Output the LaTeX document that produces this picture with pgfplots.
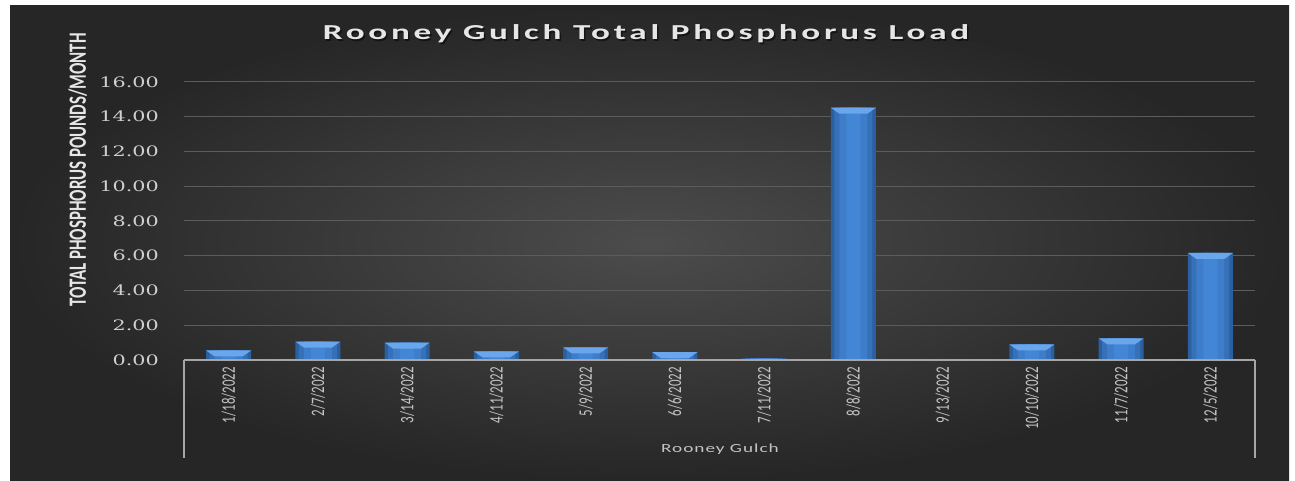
\documentclass[border=0pt]{standalone}
\usepackage{fontspec}
\usepackage{pgfplots}
\pgfplotsset{compat=1.18}
\newfontfamily\titlefont{Carlito}[FakeStretch=1.65,LetterSpace=17.5]
\newfontfamily\ylabfont{Carlito}[FakeStretch=0.68]
\newfontfamily\datefont{Carlito}[FakeStretch=0.68]
\newfontfamily\catfont{Carlito}[FakeStretch=1.55,LetterSpace=8]
\newfontfamily\tickfont{DejaVu Serif}[FakeStretch=1.44]
\definecolor{bgin}{HTML}{4C4C4C}
\definecolor{bgout}{HTML}{262626}
\definecolor{gridc}{HTML}{5C5C5C}
\definecolor{axisc}{HTML}{A6A6A6}
\definecolor{barA}{HTML}{2B5F9F}
\definecolor{barB}{HTML}{3670B8}
\definecolor{barC}{HTML}{3E7DCA}
\definecolor{barD}{HTML}{4486D6}
\definecolor{capc}{HTML}{6AA6EC}
\definecolor{titlec}{HTML}{E6E6E6}
\definecolor{tickc}{HTML}{CFCFCF}
\definecolor{datec}{HTML}{C4C4C4}
\pgfdeclareplotmark{bevel}{%
  \pgfpathmoveto{\pgfqpoint{-22.5pt}{0pt}}%
  \pgfpathlineto{\pgfqpoint{22.5pt}{0pt}}%
  \pgfpathlineto{\pgfqpoint{14pt}{-6pt}}%
  \pgfpathlineto{\pgfqpoint{-14pt}{-6pt}}%
  \pgfpathclose
  \pgfusepathqfill}
\pgfplotstableread{
x y
0 0.55
1 1.06
2 1.00
3 0.50
4 0.73
5 0.45
6 0.10
7 14.52
8 0.03
9 0.90
10 1.25
11 6.16
}\loads
\pgfplotstableread{
x y
0 0.55
1 1.06
2 1.00
3 0.50
4 0.73
5 0.45
7 14.52
9 0.90
10 1.25
11 6.16
}\caps
\begin{document}
\begin{tikzpicture}[x=1pt,y=1pt]
\path[use as bounding box] (0,0) rectangle (1295,481);
\shade[inner color=bgin, outer color=bgout] (10,0) rectangle (1289,475);
\begin{axis}[
  at={(184pt,121pt)}, anchor=south west,
  scale only axis, width=1071pt, height=278pt,
  xmin=-0.5, xmax=11.5, ymin=0, ymax=16,
  ytick={0,2,...,16},
  axis line style={draw=none},
  tick style={draw=none},
  major tick length=0pt,
  ymajorgrids, grid style={color=gridc, line width=1pt},
  xtick={0,...,11},
  xticklabels={1/18/2022,2/7/2022,3/14/2022,4/11/2022,5/9/2022,6/6/2022,7/11/2022,8/8/2022,9/13/2022,10/10/2022,11/7/2022,12/5/2022},
  xticklabel style={rotate=90, anchor=east, inner sep=0pt, text=datec, font=\datefont\fontsize{19}{20}\selectfont},
  xticklabel shift=7pt,
  yticklabel style={anchor=east, inner sep=0pt, text=tickc, font=\tickfont\fontsize{14.4}{16}\selectfont},
  yticklabel shift=25pt,
  /pgf/number format/assume math mode=true,
  /pgf/number format/.cd, fixed, fixed zerofill, precision=2, /pgfplots/.cd,
  clip=false,
]
\addplot[ybar, bar width=45pt, bar shift=0pt, draw=none, fill=barA] table[x=x,y=y] {\loads};
\addplot[ybar, bar width=38pt, bar shift=0pt, draw=none, fill=barB, forget plot] table[x=x,y=y] {\loads};
\addplot[ybar, bar width=28pt, bar shift=0pt, draw=none, fill=barC, forget plot] table[x=x,y=y] {\loads};
\addplot[ybar, bar width=14pt, bar shift=0pt, draw=none, fill=barD, forget plot] table[x=x,y=y] {\loads};
\addplot[only marks, mark=bevel, mark options={fill=capc, draw=none}, forget plot] table[x=x,y=y] {\caps};
\draw[axisc, line width=1.5pt] (axis cs:-0.5,0) -- (axis cs:11.5,0);
\draw[axisc, line width=1.5pt] (axis cs:-0.5,0) -- ([yshift=-98pt]axis cs:-0.5,0);
\draw[axisc, line width=1.5pt] (axis cs:11.5,0) -- ([yshift=-98pt]axis cs:11.5,0);
\end{axis}
\node[text=black, opacity=0.5, font=\titlefont\bfseries\fontsize{21.3}{24}\selectfont] at (647.5,445.5) {Rooney Gulch Total Phosphorus Load};
\node[text=titlec, font=\titlefont\bfseries\fontsize{21.3}{24}\selectfont] at (646,447) {Rooney Gulch Total Phosphorus Load};
\node[rotate=90, text=titlec, font=\ylabfont\bfseries\fontsize{24.8}{26}\selectfont] at (77.8,311) {TOTAL PHOSPHORUS POUNDS/MONTH};
\node[text=datec, font=\catfont\fontsize{12.4}{14}\selectfont] at (720,32) {Rooney Gulch};
\end{tikzpicture}
\end{document}
